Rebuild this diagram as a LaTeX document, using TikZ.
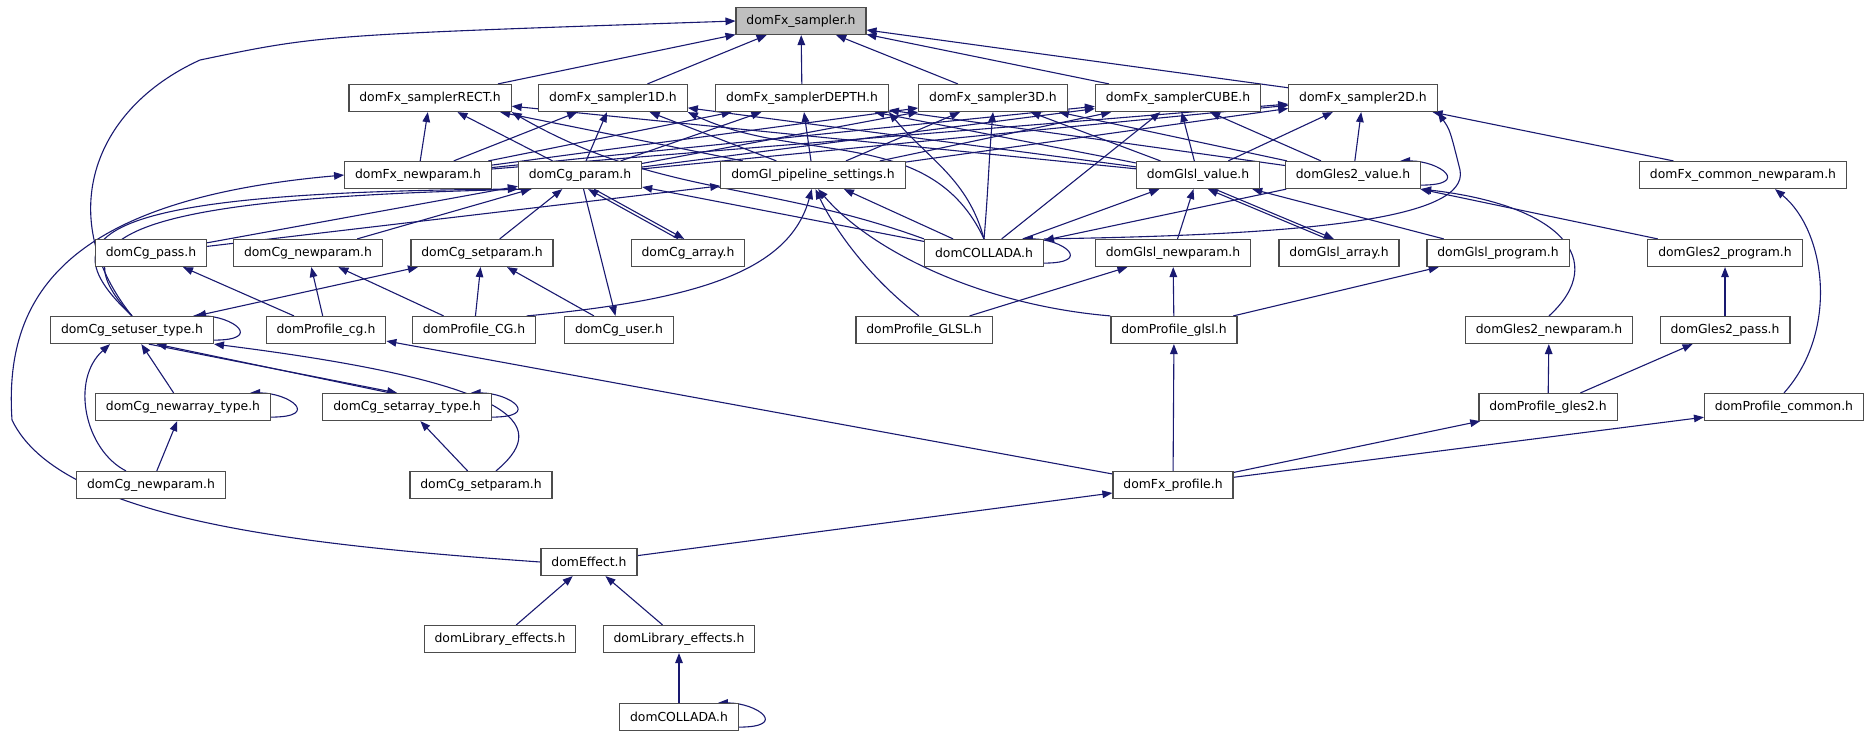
\documentclass[tikz,border=0pt]{standalone}
\usepackage{fontspec}
\setmainfont{DejaVu Sans}
\usetikzlibrary{arrows.meta,backgrounds,calc}
\definecolor{edgeblue}{RGB}{25,25,112}
\definecolor{rootgray}{RGB}{191,191,191}
\newcommand{\drawloop}[1]{\draw[dep] ($(#1.south east)+(0,-4)$) .. controls +(50,0) and +(40,0) .. ($(#1.north east)+(-21,0)$);}

\begin{document}
\begin{tikzpicture}[x=0.5pt,y=-0.5pt,
        box/.style={draw=black!70,line width=0.6pt,fill=white,inner xsep=5.2pt,inner ysep=0pt,
          minimum height=13.5pt,font=\fontsize{6.2}{7.4}\selectfont},
        rootbox/.style={box,fill=rootgray},
        dep/.style={draw=edgeblue,line width=0.55pt,-{Triangle[length=5pt,width=3.8pt]}},
        twoway/.style={dep,{Triangle[length=5pt,width=3.8pt]}-{Triangle[length=5pt,width=3.8pt]}},
        ]
        \useasboundingbox (0,0) rectangle (1872,736);
        % headers
        \node[rootbox] (sampler) at (801,21) {domFx\_sampler.h};
        \node[box] (samplerRECT) at (430,98) {domFx\_samplerRECT.h};
        \node[box] (sampler1D) at (613,98) {domFx\_sampler1D.h};
        \node[box] (samplerDEPTH) at (802,98) {domFx\_samplerDEPTH.h};
        \node[box] (sampler3D) at (993,98) {domFx\_sampler3D.h};
        \node[box] (samplerCUBE) at (1178,98) {domFx\_samplerCUBE.h};
        \node[box] (sampler2D) at (1363,98) {domFx\_sampler2D.h};
        \node[box] (fxnewparam) at (418,175) {domFx\_newparam.h};
        \node[box] (cgparam) at (580,175) {domCg\_param.h};
        \node[box] (glpipe) at (813,175) {domGl\_pipeline\_settings.h};
        \node[box] (glslvalue) at (1198,175) {domGlsl\_value.h};
        \node[box] (gles2value) at (1353,175) {domGles2\_value.h};
        \node[box] (commonnewparam) at (1743,175) {domFx\_common\_newparam.h};
        \node[box] (cgpass) at (151,253) {domCg\_pass.h};
        \node[box] (cgnewparam) at (308,253) {domCg\_newparam.h};
        \node[box] (cgsetparam) at (482,253) {domCg\_setparam.h};
        \node[box] (cgarray) at (688,253) {domCg\_array.h};
        \node[box] (collada) at (984,253) {domCOLLADA.h};
        \node[box] (glslnewparam) at (1173,253) {domGlsl\_newparam.h};
        \node[box] (glslarray) at (1339,253) {domGlsl\_array.h};
        \node[box] (glslprogram) at (1498,253) {domGlsl\_program.h};
        \node[box] (gles2program) at (1725,253) {domGles2\_program.h};
        \node[box] (setuser) at (132,330) {domCg\_setuser\_type.h};
        \node[box] (profilecg) at (326,330) {domProfile\_cg.h};
        \node[box] (profileCG) at (474,330) {domProfile\_CG.h};
        \node[box] (cguser) at (619,330) {domCg\_user.h};
        \node[box] (profileGLSL) at (924,330) {domProfile\_GLSL.h};
        \node[box] (profileglsl) at (1174,330) {domProfile\_glsl.h};
        \node[box] (gles2newparam) at (1549,330) {domGles2\_newparam.h};
        \node[box] (gles2pass) at (1725,330) {domGles2\_pass.h};
        \node[box] (newarray) at (183,407) {domCg\_newarray\_type.h};
        \node[box] (setarray) at (407,407) {domCg\_setarray\_type.h};
        \node[box] (profilegles2) at (1548,407) {domProfile\_gles2.h};
        \node[box] (profilecommon) at (1784,407) {domProfile\_common.h};
        \node[box] (cgnewparamb) at (151,485) {domCg\_newparam.h};
        \node[box] (cgsetparamb) at (481,485) {domCg\_setparam.h};
        \node[box] (fxprofile) at (1173,485) {domFx\_profile.h};
        \node[box] (effect) at (589,562) {domEffect.h};
        \node[box] (libeffa) at (500,639) {domLibrary\_effects.h};
        \node[box] (libeffb) at (679,639) {domLibrary\_effects.h};
        \node[box] (colladab) at (679,717) {domCOLLADA.h};

        \begin{pgfonlayer}{background}
        % sampler family
        \foreach \s in {samplerRECT,sampler1D,samplerDEPTH,sampler3D,samplerCUBE,sampler2D}
          \draw[dep] (\s) -- (sampler);
        \draw[dep] (setuser.north) .. controls (55,220) and (90,110) .. (200,60) .. controls (320,35) .. (sampler.west);
        \foreach \u in {fxnewparam,cgparam,glpipe,glslvalue}
          \foreach \s in {samplerRECT,sampler1D,samplerDEPTH,sampler3D,samplerCUBE,sampler2D}
            \draw[dep] (\u) -- (\s);
        \foreach \s in {samplerDEPTH,sampler3D,samplerCUBE,sampler2D}
          \draw[dep] (gles2value) -- (\s);
        \draw[dep] (commonnewparam) -- (sampler2D);
        \draw[dep] (collada.north west) to[out=160,in=-30] (samplerRECT.south east);
        \draw[dep] (collada.north) to[out=115,in=-25] (sampler1D.south east);
        \draw[dep] (collada.north) to[out=105,in=-50] (samplerDEPTH.south east);
        \draw[dep] (collada.north) to[out=85,in=-95] (sampler3D.south);
        \draw[dep] (collada) -- (samplerCUBE);
        \draw[dep] (collada.north east) .. controls (1300,235) and (1470,220) .. (1460,170) .. controls (1450,130) .. (sampler2D.south east);
        % cg
        \draw[dep] (setuser.north) .. controls (45,235) and (90,192) .. (cgparam.south west);
        \draw[dep] (setuser.north) .. controls (60,240) and (110,198) .. ($(cgparam.south west)+(14,0)$);
        \draw[dep] (cgpass) -- (cgparam);
        \draw[dep] (cgpass) -- (glpipe);
        \draw[dep] (cgnewparam) -- (cgparam);
        \draw[dep] (cgsetparam) -- (cgparam);
        \draw[dep] (cgarray.125) -- (cgparam.-60);
        \draw[dep] (cgparam.-45) -- (cgarray.105);
        \draw[dep] (cgparam) -- (cguser);
        \draw[dep] (profilecg) -- (cgpass);
        \draw[dep] (profilecg) -- (cgnewparam);
        \draw[dep] (profileCG) -- (cgnewparam);
        \draw[dep] (profileCG) -- (cgsetparam);
        \draw[dep] (profileCG.15) .. controls (700,300) and (790,270) .. (glpipe.-95);
        \draw[dep] (cguser) -- (cgsetparam);
        \draw[twoway] (cgsetparam) -- (setuser);
        \draw[dep] (newarray) -- (setuser);
        \draw[dep] (setarray.140) -- (setuser.-30);
        \draw[dep] (setuser.-40) -- (setarray.125);
        \draw[dep] ($(cgnewparamb.north)+(-25,0)$) .. controls (85,450) and (70,380) .. ($(setuser.south)+(-22,0)$);
        \draw[dep] ($(cgsetparamb.north)+(15,0)$) .. controls (545,430) and (540,385) .. (setuser.south east);
        \draw[dep] (cgnewparamb) -- (newarray);
        \draw[dep] (cgsetparamb) -- (setarray);
        \drawloop{setuser}
        \drawloop{newarray}
        \drawloop{setarray}
        % collada and glsl
        \draw[dep] (collada) -- (cgparam);
        \draw[dep] (collada) -- (glpipe);
        \draw[dep] (collada) -- (glslvalue);
        \draw[dep] (gles2value) -- (collada);
        \drawloop{collada}
        \draw[dep] (profileGLSL.110) .. controls (860,270) and (830,220) .. (glpipe.-80);
        \draw[dep] (profileglsl.north west) .. controls (980,305) and (870,250) .. (glpipe.-70);
        \draw[dep] (profileGLSL) -- (glslnewparam);
        \draw[dep] (profileglsl) -- (glslnewparam);
        \draw[dep] (profileglsl) -- (glslprogram);
        \draw[dep] (glslnewparam) -- (glslvalue);
        \draw[dep] (glslarray.130) -- (glslvalue.-55);
        \draw[dep] (glslvalue.-40) -- (glslarray.110);
        \draw[dep] (glslprogram) -- (glslvalue);
        % gles2
        \drawloop{gles2value}
        \draw[dep] (gles2program) -- (gles2value);
        \draw[dep] (gles2newparam.north) .. controls (1610,260) and (1560,205) .. (gles2value.south east);
        \draw[dep] (profilegles2) -- (gles2newparam);
        \draw[dep] (profilegles2) -- (gles2pass);
        \draw[dep] (gles2pass) -- (gles2program);
        \draw[dep] (profilecommon.north) .. controls (1840,330) and (1825,230) .. ($(commonnewparam.south)+(32,0)$);
        % profiles and effect
        \draw[dep] (fxprofile) -- (profilecg);
        \draw[dep] (fxprofile) -- (profileglsl);
        \draw[dep] (fxprofile) -- (profilegles2);
        \draw[dep] (fxprofile) -- (profilecommon);
        \draw[dep] (effect) -- (fxprofile);
        \draw[dep] (effect.west) .. controls (300,545) and (60,520) .. (12,420) .. controls (4,300) and (60,200) .. (fxnewparam.west);
        \draw[dep] (libeffa) -- (effect);
        \draw[dep] (libeffb) -- (effect);
        \draw[dep] (colladab) -- (libeffb);
        \drawloop{colladab}
        \end{pgfonlayer}
      \end{tikzpicture}
\end{document}
